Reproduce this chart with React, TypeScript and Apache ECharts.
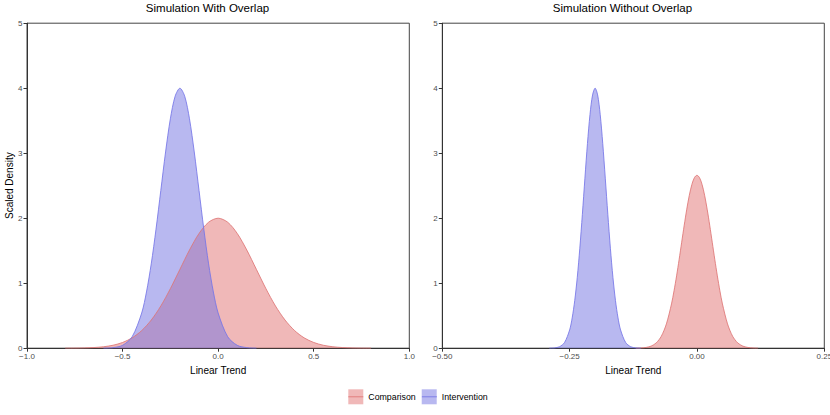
import React, { useEffect, useRef } from "react";
import * as echarts from "echarts";

// Left panel: Simulation With Overlap
const leftComparison: [number, number][] = [
  [-0.8, 0.0007], [-0.75, 0.0018], [-0.7, 0.0044], [-0.65, 0.0102], [-0.6, 0.0222],
  [-0.55, 0.0456], [-0.5, 0.088], [-0.45, 0.159], [-0.4, 0.271], [-0.35, 0.433],
  [-0.3, 0.649], [-0.25, 0.916], [-0.2, 1.213], [-0.15, 1.51], [-0.1, 1.765],
  [-0.05, 1.938], [0, 2.0], [0.05, 1.938], [0.1, 1.765], [0.15, 1.51],
  [0.2, 1.213], [0.25, 0.916], [0.3, 0.649], [0.35, 0.433], [0.4, 0.271],
  [0.45, 0.159], [0.5, 0.088], [0.55, 0.0456], [0.6, 0.0222], [0.65, 0.0102],
  [0.7, 0.0044], [0.75, 0.0018], [0.8, 0.0007],
];
const leftIntervention: [number, number][] = [
  [-0.6, 0.0013], [-0.55, 0.0088], [-0.5, 0.044], [-0.45, 0.176], [-0.4, 0.541],
  [-0.375, 0.865], [-0.35, 1.298], [-0.325, 1.832], [-0.3, 2.426], [-0.275, 3.019],
  [-0.25, 3.53], [-0.225, 3.877], [-0.2, 4.0], [-0.175, 3.877], [-0.15, 3.53],
  [-0.125, 3.019], [-0.1, 2.426], [-0.075, 1.832], [-0.05, 1.298], [-0.025, 0.865],
  [0, 0.541], [0.05, 0.176], [0.1, 0.044], [0.15, 0.0088], [0.2, 0.0013],
];

// Right panel: Simulation Without Overlap
const rightComparison: [number, number][] = [
  [-0.12, 0.001], [-0.11, 0.0036], [-0.1, 0.0115], [-0.09, 0.0323], [-0.08, 0.0816],
  [-0.07, 0.184], [-0.06, 0.374], [-0.05, 0.681], [-0.045, 0.883], [-0.04, 1.113],
  [-0.035, 1.365], [-0.03, 1.63], [-0.025, 1.893], [-0.02, 2.139], [-0.015, 2.353],
  [-0.01, 2.519], [-0.005, 2.624], [0, 2.66], [0.005, 2.624], [0.01, 2.519],
  [0.015, 2.353], [0.02, 2.139], [0.025, 1.893], [0.03, 1.63], [0.035, 1.365],
  [0.04, 1.113], [0.045, 0.883], [0.05, 0.681], [0.06, 0.374], [0.07, 0.184],
  [0.08, 0.0816], [0.09, 0.0323], [0.1, 0.0115], [0.11, 0.0036], [0.12, 0.001],
];
const rightIntervention: [number, number][] = [
  [-0.29, 0.0007], [-0.28, 0.0045], [-0.27, 0.022], [-0.26, 0.0875], [-0.25, 0.281],
  [-0.245, 0.466], [-0.24, 0.732], [-0.235, 1.089], [-0.23, 1.538], [-0.225, 2.059],
  [-0.22, 2.615], [-0.215, 3.15], [-0.21, 3.597], [-0.205, 3.895], [-0.2, 4.0],
  [-0.195, 3.895], [-0.19, 3.597], [-0.185, 3.15], [-0.18, 2.615], [-0.175, 2.059],
  [-0.17, 1.538], [-0.165, 1.089], [-0.16, 0.732], [-0.155, 0.466], [-0.15, 0.281],
  [-0.14, 0.0875], [-0.13, 0.022], [-0.12, 0.0045], [-0.11, 0.0007],
];

const panelTitles = ["Simulation With Overlap", "Simulation Without Overlap"];
const seriesNames = ["Comparison", "Intervention"];
const yTicks = { min: 0, max: 5, interval: 1 };
const leftX = { min: -1, max: 1, interval: 0.5, digits: 1 };
const rightX = { min: -0.5, max: 0.25, interval: 0.25, digits: 2 };

const FONT = "'Liberation Sans', Arial, Helvetica, sans-serif";
const RED_FILL = "rgba(225,113,113,0.5)";
const RED_LINE = "rgba(222,118,118,0.85)";
const BLUE_FILL = "rgba(113,113,225,0.5)";
const BLUE_LINE = "rgba(118,118,232,0.85)";

const fmt = (digits: number) => (v: number) => {
  const s = Math.abs(v).toFixed(digits);
  return v < -1e-9 ? "\u2212" + s : s;
};

export default function App() {
  const ref = useRef<HTMLDivElement>(null);
  useEffect(() => {
    if (!ref.current) return;
    const chart = echarts.init(ref.current, undefined, { renderer: "svg" });
    const grids = [
      { left: 27, right: 420.7, top: 23.2, bottom: 66.8 },
      { left: 442.3, right: 5.7, top: 23.2, bottom: 66.8 },
    ];
    const xAxisCfg = (gi: number, cfg: typeof leftX) => ({
      type: "value",
      gridIndex: gi,
      min: cfg.min,
      max: cfg.max,
      interval: cfg.interval,
      name: "Linear Trend",
      nameLocation: "middle",
      nameGap: 14,
      nameTextStyle: { fontFamily: FONT, fontSize: 10, color: "#000" },
      axisLine: { show: true, onZero: false, lineStyle: { color: "#333", width: 1 } },
      axisTick: { show: true, length: 3.5, lineStyle: { color: "#333" } },
      axisLabel: {
        fontFamily: FONT,
        fontSize: 8,
        color: "#4d4d4d",
        margin: 4,
        showMinLabel: true,
        showMaxLabel: true,
        formatter: fmt(cfg.digits),
      },
      splitLine: { show: false },
    });
    const yAxisCfg = (gi: number) => ({
      type: "value",
      gridIndex: gi,
      min: yTicks.min,
      max: yTicks.max,
      interval: yTicks.interval,
      name: gi === 0 ? "Scaled Density" : "",
      nameLocation: "middle",
      nameGap: 11,
      nameTextStyle: { fontFamily: FONT, fontSize: 10, color: "#000" },
      axisLine: { show: true, onZero: false, lineStyle: { color: "#333", width: 1 } },
      axisTick: { show: true, length: 3.5, lineStyle: { color: "#333" } },
      axisLabel: { fontFamily: FONT, fontSize: 8, color: "#4d4d4d", margin: 4.5 },
      splitLine: { show: false },
    });
    const mk = (name: string, gi: number, data: [number, number][], fill: string, line: string) => ({
      name,
      type: "line",
      xAxisIndex: gi,
      yAxisIndex: gi,
      data,
      smooth: 0.3,
      showSymbol: false,
      symbol: "none",
      lineStyle: { color: line, width: 1 },
      itemStyle: { color: fill },
      areaStyle: { color: fill, opacity: 1 },
      silent: true,
    });
    chart.setOption({
      animation: false,
      backgroundColor: "#fff",
      textStyle: { fontFamily: FONT },
      title: [
        {
          text: panelTitles[0],
          left: 207.5,
          textAlign: "center",
          top: 2,
          padding: 0,
          textStyle: { fontFamily: FONT, fontSize: 11.5, fontWeight: "normal", color: "#000" },
        },
        {
          text: panelTitles[1],
          left: 622.5,
          textAlign: "center",
          top: 2,
          padding: 0,
          textStyle: { fontFamily: FONT, fontSize: 11.5, fontWeight: "normal", color: "#000" },
        },
      ],
      grid: grids.map((g) => ({
        ...g,
        show: true,
        borderColor: "#444",
        borderWidth: 1,
        backgroundColor: "transparent",
        containLabel: false,
        outerBoundsMode: "none",
      })),
      xAxis: [xAxisCfg(0, leftX), xAxisCfg(1, rightX)],
      yAxis: [yAxisCfg(0), yAxisCfg(1)],
      legend: {
        left: 348.3,
        top: 389.3,
        padding: 0,
        itemWidth: 15,
        itemHeight: 15,
        itemGap: 6,
        icon: "rect",
        textStyle: { fontFamily: FONT, fontSize: 8.8, color: "#000", padding: [0, 0, 0, 0] },
        data: [
          { name: seriesNames[0], itemStyle: { color: RED_FILL } },
          { name: seriesNames[1], itemStyle: { color: BLUE_FILL } },
        ],
        selectedMode: false,
      },
      graphic: [
        { type: "line", silent: true, shape: { x1: 348.3, y1: 396.8, x2: 363.3, y2: 396.8 }, style: { stroke: RED_LINE, lineWidth: 1 } },
        { type: "line", silent: true, shape: { x1: 421.9, y1: 396.8, x2: 436.9, y2: 396.8 }, style: { stroke: BLUE_LINE, lineWidth: 1 } },
      ],
      series: [
        mk(seriesNames[0], 0, leftComparison, RED_FILL, RED_LINE),
        mk(seriesNames[1], 0, leftIntervention, BLUE_FILL, BLUE_LINE),
        mk(seriesNames[0], 1, rightComparison, RED_FILL, RED_LINE),
        mk(seriesNames[1], 1, rightIntervention, BLUE_FILL, BLUE_LINE),
      ],
    });
    return () => chart.dispose();
  }, []);
  return (
    <div
      ref={ref}
      style={{ position: "fixed", left: 0, top: 0, width: 830, height: 415 }}
    />
  );
}
